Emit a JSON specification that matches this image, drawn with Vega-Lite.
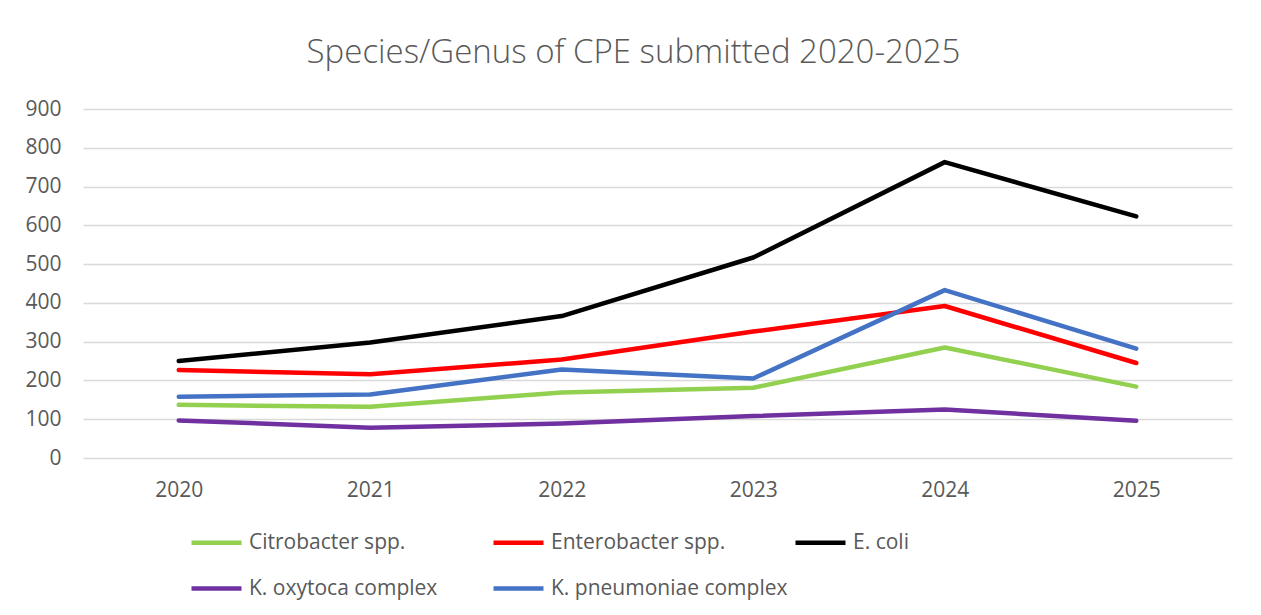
{
  "$schema": "https://vega.github.io/schema/vega-lite/v6.json",
  "width": 1149,
  "height": 349,
  "autosize": {"type": "none"},
  "padding": {"left": 83, "top": 109, "right": 29, "bottom": 157},
  "background": "white",
  "title": {
    "text": "Species/Genus of CPE submitted 2020-2025",
    "font": "Open Sans",
    "fontSize": 33,
    "fontWeight": 300,
    "color": "#595959",
    "anchor": "middle",
    "dx": -24,
    "offset": 28
  },
  "data": {
    "values": [
      {"species": "Citrobacter spp.", "year": "2020", "count": 137},
      {"species": "Citrobacter spp.", "year": "2021", "count": 132},
      {"species": "Citrobacter spp.", "year": "2022", "count": 169},
      {"species": "Citrobacter spp.", "year": "2023", "count": 181},
      {"species": "Citrobacter spp.", "year": "2024", "count": 285},
      {"species": "Citrobacter spp.", "year": "2025", "count": 184},
      {"species": "Enterobacter spp.", "year": "2020", "count": 227},
      {"species": "Enterobacter spp.", "year": "2021", "count": 216},
      {"species": "Enterobacter spp.", "year": "2022", "count": 254},
      {"species": "Enterobacter spp.", "year": "2023", "count": 326},
      {"species": "Enterobacter spp.", "year": "2024", "count": 392},
      {"species": "Enterobacter spp.", "year": "2025", "count": 245},
      {"species": "E. coli", "year": "2020", "count": 250},
      {"species": "E. coli", "year": "2021", "count": 298},
      {"species": "E. coli", "year": "2022", "count": 366},
      {"species": "E. coli", "year": "2023", "count": 517},
      {"species": "E. coli", "year": "2024", "count": 763},
      {"species": "E. coli", "year": "2025", "count": 623},
      {"species": "K. oxytoca complex", "year": "2020", "count": 97},
      {"species": "K. oxytoca complex", "year": "2021", "count": 78},
      {"species": "K. oxytoca complex", "year": "2022", "count": 89},
      {"species": "K. oxytoca complex", "year": "2023", "count": 108},
      {"species": "K. oxytoca complex", "year": "2024", "count": 125},
      {"species": "K. oxytoca complex", "year": "2025", "count": 96},
      {"species": "K. pneumoniae complex", "year": "2020", "count": 158},
      {"species": "K. pneumoniae complex", "year": "2021", "count": 164},
      {"species": "K. pneumoniae complex", "year": "2022", "count": 228},
      {"species": "K. pneumoniae complex", "year": "2023", "count": 205},
      {"species": "K. pneumoniae complex", "year": "2024", "count": 433},
      {"species": "K. pneumoniae complex", "year": "2025", "count": 282}
    ]
  },
  "mark": {"type": "line", "strokeWidth": 4.5, "strokeCap": "round", "strokeJoin": "round"},
  "encoding": {
    "x": {
      "field": "year",
      "type": "ordinal",
      "scale": {"type": "point", "padding": 0.5},
      "axis": {
        "title": null,
        "labelAngle": 0,
        "domain": false,
        "ticks": false,
        "tickSize": 0,
        "grid": false,
        "labelPadding": 21,
        "labelFont": "Open Sans",
        "labelFontSize": 21,
        "labelColor": "#595959"
      }
    },
    "y": {
      "field": "count",
      "type": "quantitative",
      "scale": {"domain": [0, 900], "nice": false},
      "axis": {
        "title": null,
        "values": [0, 100, 200, 300, 400, 500, 600, 700, 800, 900],
        "domain": false,
        "ticks": false,
        "tickSize": 0,
        "labelPadding": 22,
        "labelFont": "Open Sans",
        "labelFontSize": 21,
        "labelColor": "#595959",
        "gridColor": "#d9d9d9",
        "gridWidth": 1.3
      }
    },
    "color": {
      "field": "species",
      "type": "nominal",
      "sort": ["Citrobacter spp.", "Enterobacter spp.", "E. coli", "K. oxytoca complex", "K. pneumoniae complex"],
      "scale": {
        "domain": ["Citrobacter spp.", "Enterobacter spp.", "E. coli", "K. oxytoca complex", "K. pneumoniae complex"],
        "range": ["#92d050", "#ff0000", "#000000", "#7030a0", "#4472c4"]
      },
      "legend": {
        "title": null,
        "orient": "none",
        "legendX": 106,
        "legendY": 406,
        "direction": "horizontal",
        "columns": 3,
        "gridAlign": "all",
        "columnPadding": -2,
        "rowPadding": 8,
        "padding": 0,
        "symbolType": "stroke",
        "symbolSize": 2500,
        "symbolStrokeWidth": 4.5,
        "labelOffset": 5,
        "labelFont": "Open Sans",
        "labelFontSize": 21,
        "labelColor": "#595959",
        "labelLimit": 400
      }
    }
  },
  "config": {"view": {"stroke": null}}
}
